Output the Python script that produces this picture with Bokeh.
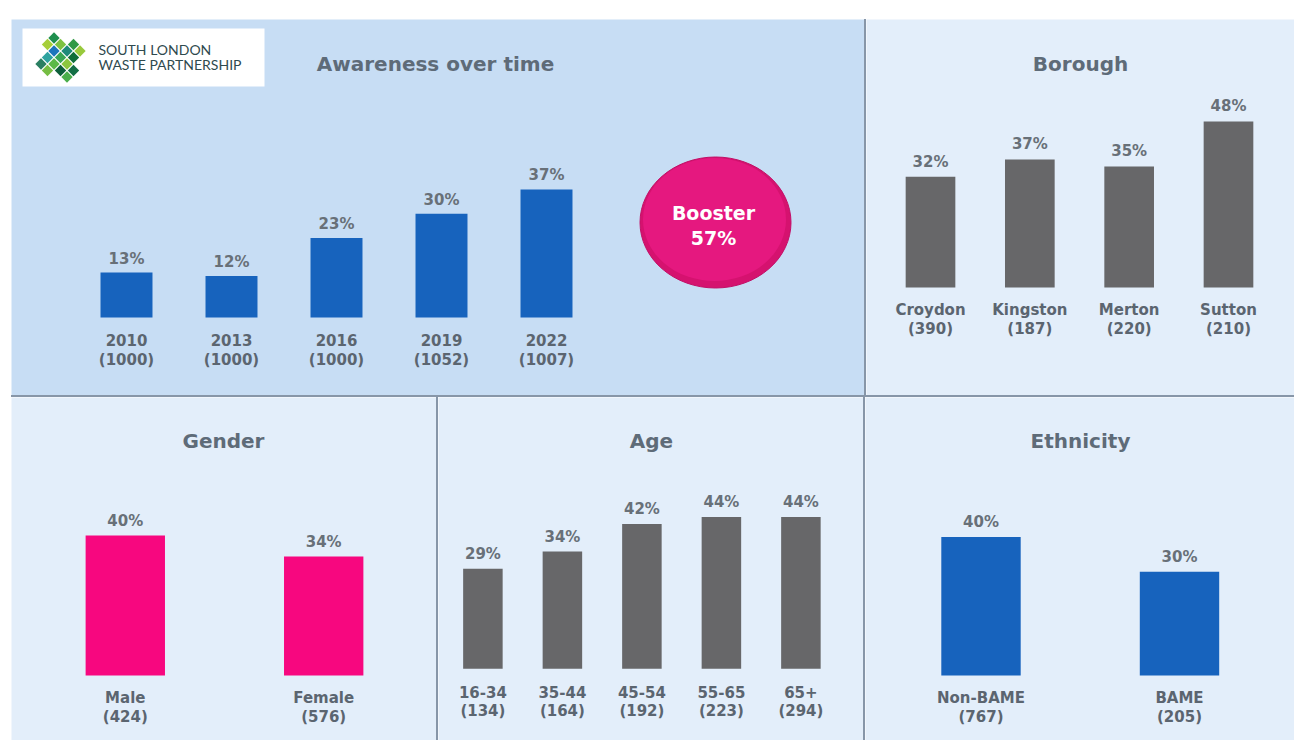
from bokeh.plotting import figure
from bokeh.models import Range1d, Spacer
from bokeh.layouts import row, column
from bokeh.embed import file_html
from bokeh.resources import INLINE
from bokeh.core.properties import value

# ---------------- data ----------------
years = ["2010", "2013", "2016", "2019", "2022"]
year_n = [1000, 1000, 1000, 1052, 1007]
awareness_pct = [13, 12, 23, 30, 37]
booster_pct = 57

boroughs = ["Croydon", "Kingston", "Merton", "Sutton"]
borough_n = [390, 187, 220, 210]
borough_pct = [32, 37, 35, 48]

genders = ["Male", "Female"]
gender_n = [424, 576]
gender_pct = [40, 34]

ages = ["16-34", "35-44", "45-54", "55-65", "65+"]
age_n = [134, 164, 192, 223, 294]
age_pct = [29, 34, 42, 44, 44]

ethnicities = ["Non-BAME", "BAME"]
ethnicity_n = [767, 205]
ethnicity_pct = [40, 30]

# ---------------- style ----------------
FONT = value("DejaVu Sans")
TITLE_C = "#5e6b78"
CAT_C = "#5b6570"
PCT_C = "#687078"
BLUE = "#1763bd"
GREY = "#676769"
PINK = "#f7077f"
BG_DARK = "#c7ddf4"
BG_LIGHT = "#e3eefa"
DIVIDER = "#8796a8"


def make_panel(w, h, first_px, step_px, base_px, ppu, bg):
    x0 = -first_px / step_px
    x1 = x0 + w / step_px
    y1 = base_px / ppu
    y0 = -(h - base_px) / ppu
    p = figure(width=w, height=h, x_range=Range1d(x0, x1), y_range=Range1d(y0, y1),
               output_backend="svg", toolbar_location=None,
               x_axis_type=None, y_axis_type=None, min_border=0,
               background_fill_color=bg, border_fill_color=bg,
               outline_line_color=None)
    p.xgrid.visible = False
    p.ygrid.visible = False
    fx = lambda px: x0 + px / step_px
    fy = lambda py: (base_px - py) / ppu
    return p, fx, fy


def draw_bars(p, cats, ns, pcts, bw, color, ppu, cat1=22, cat2=41, pct_off=14):
    idx = list(range(len(cats)))
    p.vbar(x=idx, top=pcts, bottom=0, width=bw, fill_color=color, line_color=None)
    p.text(x=idx, y=[v + pct_off / ppu for v in pcts], text=[f"{v}%" for v in pcts],
           text_font=FONT, text_font_size="15px", text_font_style="bold",
           text_color=PCT_C, text_align="center", text_baseline="middle")
    p.text(x=idx, y=[-cat1 / ppu] * len(cats), text=cats,
           text_font=FONT, text_font_size="15px", text_font_style="bold",
           text_color=CAT_C, text_align="center", text_baseline="middle")
    p.text(x=idx, y=[-cat2 / ppu] * len(cats), text=[f"({n})" for n in ns],
           text_font=FONT, text_font_size="15px", text_font_style="bold",
           text_color=CAT_C, text_align="center", text_baseline="middle")


def title(p, fx, fy, txt, cx, cy):
    p.text(x=[fx(cx)], y=[fy(cy)], text=[txt], text_font=FONT, text_font_size="20px",
           text_font_style="bold", text_color=TITLE_C, text_align="center",
           text_baseline="middle")


def divider(w, h):
    return Spacer(width=w, height=h, margin=0, styles={"background-color": DIVIDER})


TOP_H = 376
BOT_H = 343

# ---------------- Awareness over time ----------------
pa, fxa, fya = make_panel(853, TOP_H, 115, 105, 298, 3.46, BG_DARK)
draw_bars(pa, years, year_n, awareness_pct, 0.495, BLUE, 3.46, cat1=22, cat2=42)
title(pa, fxa, fya, "Awareness over time", 424, 44)

# booster bubble
pa.ellipse(x=[fxa(704)], y=[fya(203)], width=151, height=131,
           width_units="screen", height_units="screen",
           fill_color="#d5126f", line_color="#c20f67", line_width=1)
pa.ellipse(x=[fxa(703)], y=[fya(200)], width=143, height=123,
           width_units="screen", height_units="screen",
           fill_color="#e5187f", line_color=None)
pa.text(x=[fxa(702)], y=[fya(193)], text=["Booster"], text_font=FONT,
        text_font_size="19px", text_font_style="bold", text_color="white",
        text_align="center", text_baseline="middle")
pa.text(x=[fxa(702)], y=[fya(218)], text=[f"{booster_pct}%"], text_font=FONT,
        text_font_size="19px", text_font_style="bold", text_color="white",
        text_align="center", text_baseline="middle")

# logo
pa.quad(left=[fxa(11)], right=[fxa(253)], top=[fya(9)], bottom=[fya(67)],
        fill_color="white", line_color=None)
logo_cells = [(0, -2), (-1, -1), (0, -1), (1, -1), (-2, 0), (-1, 0), (0, 0), (1, 0), (2, 0),
              (-1, 1), (0, 1), (1, 1), (0, 2), (-2, -1), (2, 1), (1, -2), (-1, 2)]
logo_colors = ["#2f9a45", "#7dc242", "#1d8a7a", "#0f6e3a", "#a6ce39", "#1c75bc",
               "#3aa655", "#8cc63f", "#136f45", "#2ea3a0", "#5bb947", "#0e5f3a",
               "#76bd43", "#1f8f4e", "#4aae4a", "#98c93c", "#2a7f62"]
lx = [fxa(49 + 6.5 * (i - j)) for i, j in logo_cells]
ly = [fya(38 + 6.5 * (i + j)) for i, j in logo_cells]
pa.scatter(x=lx, y=ly, marker="square", size=8, angle=0.785,
           fill_color=logo_colors, line_color=None)
pa.text(x=[fxa(87)], y=[fya(30)], text=["SOUTH LONDON"], text_font=value("Lato"),
        text_font_size="14px", text_color="#2f4a4e", text_align="left",
        text_baseline="middle")
pa.text(x=[fxa(87)], y=[fya(44.5)], text=["WASTE PARTNERSHIP"], text_font=value("Lato"),
        text_font_size="14px", text_color="#2f4a4e", text_align="left",
        text_baseline="middle")

# ---------------- Borough ----------------
pb, fxb, fyb = make_panel(428, TOP_H, 64, 99.33, 268, 3.46, BG_LIGHT)
draw_bars(pb, boroughs, borough_n, borough_pct, 0.5, GREY, 3.46, cat1=22, cat2=41, pct_off=15)
title(pb, fxb, fyb, "Borough", 214, 44)

# ---------------- Gender ----------------
pg, fxg, fyg = make_panel(425, BOT_H, 113.8, 198.4, 278, 3.5, BG_LIGHT)
draw_bars(pg, genders, gender_n, gender_pct, 0.4, PINK, 3.5, cat1=22, cat2=41, pct_off=15)
title(pg, fxg, fyg, "Gender", 212, 43)

# ---------------- Age ----------------
pg2, fxag, fyag = make_panel(425, BOT_H, 44.4, 79.5, 271.3, 3.45, BG_LIGHT)
draw_bars(pg2, ages, age_n, age_pct, 0.497, GREY, 3.45, cat1=23, cat2=42, pct_off=15)
title(pg2, fxag, fyag, "Age", 213, 43)

# ---------------- Ethnicity ----------------
pe, fxe, fye = make_panel(429, BOT_H, 115.5, 198.5, 278, 3.46, BG_LIGHT)
draw_bars(pe, ethnicities, ethnicity_n, ethnicity_pct, 0.4, BLUE, 3.46, cat1=22, cat2=41, pct_off=15)
title(pe, fxe, fye, "Ethnicity", 215, 43)

top = row(pa, divider(2, TOP_H), pb, spacing=0)
bottom = row(pg, divider(2, BOT_H), pg2, divider(2, BOT_H), pe, spacing=0)
layout = column(top, divider(1283, 2), bottom, spacing=0, margin=(19, 0, 0, 11))

open("out.html", "w").write(file_html(layout, INLINE))
